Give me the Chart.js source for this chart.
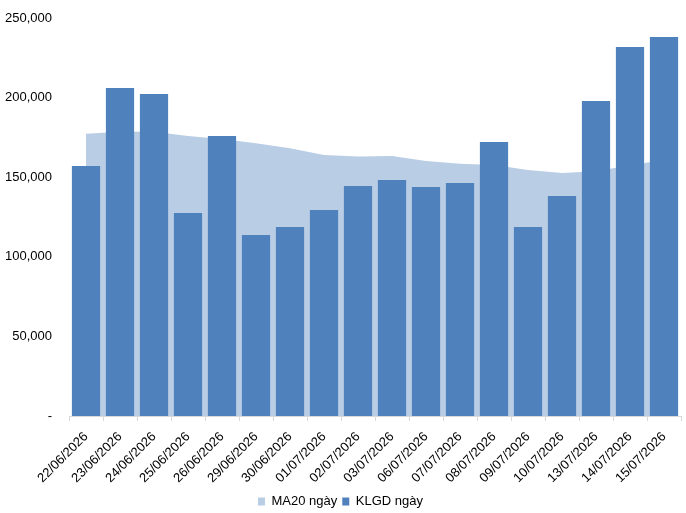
<!DOCTYPE html>
<html>
<head>
<meta charset="utf-8">
<script src="https://cdn.jsdelivr.net/npm/chart.js@4.4.1/dist/chart.umd.min.js"></script>
<style>
  html, body { margin: 0; padding: 0; background: #fff; }
  #wrap { position: relative; width: 686px; height: 513px; }
</style>
</head>
<body>
<div id="wrap"><canvas id="chart"></canvas></div>
<script>
// data
const dates = ['22/06/2026', '23/06/2026', '24/06/2026', '25/06/2026', '26/06/2026', '29/06/2026',
    '30/06/2026', '01/07/2026', '02/07/2026', '03/07/2026', '06/07/2026', '07/07/2026',
    '08/07/2026', '09/07/2026', '10/07/2026', '13/07/2026', '14/07/2026', '15/07/2026'];
const klgd = [157000, 206000, 202300, 127500, 175900, 113700, 118700, 129400, 144500,
    148200, 143800, 146400, 172100, 118700, 138200, 197900, 231800, 238100];
const ma20 = [177300, 178600, 178500, 175900, 174000, 171300, 168200, 164000, 163000,
    163300, 160200, 158500, 157700, 154600, 152600, 153800, 157500, 160800];
const yTicks = [0, 50000, 100000, 150000, 200000, 250000];

const font = 'Liberation Sans, Arial, sans-serif';
const ctx = document.getElementById('chart').getContext('2d');

new Chart(ctx, {
    type: 'bar',
    data: {
        labels: dates,
        datasets: [{
            type: 'line',
            label: 'MA20 ngày',
            data: ma20,
            backgroundColor: '#B9CDE5',
            borderColor: '#B9CDE5',
            borderWidth: 0,
            pointRadius: 0,
            tension: 0,
            fill: 'origin',
            order: 1
        }, {
            label: 'KLGD ngày',
            data: klgd,
            backgroundColor: '#4F81BD',
            borderWidth: 0,
            categoryPercentage: 1,
            barPercentage: 0.83,
            order: 0
        }]
    },
    options: {
        responsive: true,
        maintainAspectRatio: false,
        animation: false,
        layout: { padding: { top: 18, right: 5, left: 0, bottom: -5 } },
        plugins: {
            tooltip: { enabled: false },
            legend: {
                position: 'bottom',
                labels: {
                    boxWidth: 7,
                    boxHeight: 8,
                    padding: 5,
                    color: '#000',
                    font: { family: font, size: 13 },
                    sort: (a, b) => a.datasetIndex - b.datasetIndex
                }
            }
        },
        scales: {
            x: {
                offset: true,
                grid: {
                    offset: true,
                    drawOnChartArea: false,
                    tickLength: 5,
                    color: '#D9D9D9'
                },
                border: { color: '#D9D9D9' },
                afterFit: (scale) => { scale.height = 74; },
                ticks: {
                    maxRotation: 45,
                    minRotation: 45,
                    autoSkip: false,
                    padding: 8,
                    color: '#000',
                    font: { family: font, size: 13 }
                }
            },
            y: {
                min: 0,
                max: 250000,
                grid: { display: false },
                border: { display: false },
                afterFit: (scale) => { scale.width = 69; },
                afterBuildTicks: (scale) => { scale.ticks = yTicks.map(v => ({ value: v })); },
                ticks: {
                    padding: 9,
                    color: '#000',
                    font: { family: font, size: 13 },
                    callback: (v) => v === 0 ? '-' : v.toLocaleString('en-US')
                }
            }
        }
    }
});
</script>
</body>
</html>
